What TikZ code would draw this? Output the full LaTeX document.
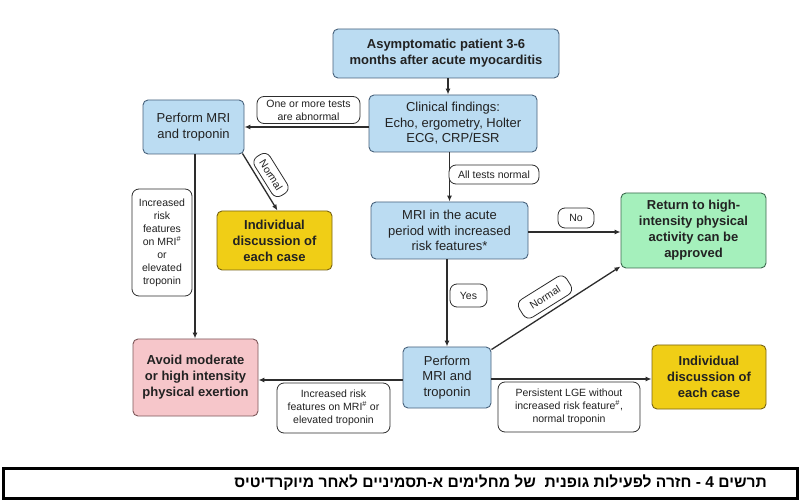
\documentclass[tikz,border=0pt]{standalone}
\usepackage{fontspec}
\setmainfont{Liberation Sans}
\newfontfamily\hebfont[Script=Hebrew]{Liberation Sans}
\TeXXeTstate=1
\usetikzlibrary{arrows.meta,calc}
\definecolor{bluefill}{RGB}{187,220,242}
\definecolor{blueline}{RGB}{72,98,124}
\definecolor{yellowfill}{RGB}{240,206,22}
\definecolor{yellowline}{RGB}{120,100,20}
\definecolor{greenfill}{RGB}{165,240,188}
\definecolor{greenline}{RGB}{60,105,78}
\definecolor{pinkfill}{RGB}{246,198,202}
\definecolor{pinkline}{RGB}{125,88,90}
\definecolor{txt}{RGB}{34,34,34}
\definecolor{conn}{RGB}{45,45,45}
\tikzset{
  box/.style={draw=blueline, line width=0.9pt, rounded corners=5pt, align=center, inner sep=0pt, text=txt, font=\fontsize{13}{15.5}\selectfont},
  bluebox/.style={box, fill=bluefill},
  yellowbox/.style={box, fill=yellowfill, draw=yellowline, font=\fontsize{13}{16}\selectfont\bfseries},
  greenbox/.style={box, fill=greenfill, draw=greenline, font=\fontsize{13}{16}\selectfont\bfseries},
  pinkbox/.style={box, fill=pinkfill, draw=pinkline, font=\fontsize{13}{16}\selectfont\bfseries},
  lab/.style={draw=conn, line width=0.8pt, fill=white, rounded corners=7pt, align=center, inner sep=0pt, text=txt, font=\fontsize{10.5}{13}\selectfont},
  arr/.style={draw=conn, line width=1.3pt, -{Latex[length=6pt,width=5pt]}},
}
\begin{document}
\begin{tikzpicture}[x=1pt,y=-1pt]
\useasboundingbox[fill=white] (0,0) rectangle (800,502);

% main boxes
\node[bluebox, minimum width=226pt, minimum height=49pt, font=\fontsize{13}{16}\selectfont\bfseries] (top) at (446,53.5) {Asymptomatic patient 3-6\\months after acute myocarditis};
\node[bluebox, minimum width=168pt, minimum height=57pt] (clin) at (453,123.5) {Clinical findings:\\Echo, ergometry, Holter\\ECG, CRP/ESR};
\node[bluebox, minimum width=101pt, minimum height=54pt] (mri1) at (193.5,127) {Perform MRI\\and troponin};
\node[yellowbox, minimum width=115pt, minimum height=59pt] (ind1) at (274.5,240.5) {Individual\\discussion of\\each case};
\node[bluebox, minimum width=157pt, minimum height=57pt] (acute) at (449.5,230.5) {MRI in the acute\\period with increased\\risk features*};
\node[greenbox, minimum width=145pt, minimum height=75pt] (ret) at (693.5,230.5) {Return to high-\\intensity physical\\activity can be\\approved};
\node[pinkbox, minimum width=125pt, minimum height=77pt] (avoid) at (195.5,377.5) {Avoid moderate\\or high intensity\\physical exertion};
\node[bluebox, minimum width=88pt, minimum height=61pt] (mri2) at (447,377.5) {Perform\\MRI and\\troponin};
\node[yellowbox, minimum width=114pt, minimum height=64pt] (ind2) at (709,377) {Individual\\discussion of\\each case};

% connectors
\draw[arr] ([xshift=2pt]top.south) -- ([xshift=2pt]top.south |- clin.north);
\draw[arr] (clin.west |- mri1.east) -- (mri1.east);
\draw[arr] (clin.south -| acute.north) -- (acute.north);
\draw[arr] ([yshift=-1.5pt]acute.east) -- ([yshift=-1.5pt]acute.east -| ret.west);
\draw[arr] (acute.south -| mri2.north) -- (mri2.north);
\draw[arr] ([yshift=-3pt]mri2.north east) -- ([yshift=2pt]ret.south west);
\draw[arr] ([yshift=-2.5pt]mri2.west) -- ([yshift=-2.5pt]mri2.west -| avoid.east);
\draw[arr] ([yshift=-1.5pt]mri2.east) -- ([yshift=-1.5pt]mri2.east -| ind2.west);
\draw[arr] ([xshift=1.5pt]mri1.south) -- ([xshift=1.5pt]mri1.south |- avoid.north);
\draw[arr] ([xshift=-2pt,yshift=1pt]mri1.south east) -- ([xshift=3pt]ind1.north);

% labels
\node[lab, minimum width=103pt, minimum height=27pt] (l1) at (308.5,110) {One or more tests\\are abnormal};
\node[lab, minimum width=90pt, minimum height=19pt] (l2) at (494,174.5) {All tests normal};
\node[lab, minimum width=46pt, minimum height=18pt, rotate=-58] (l3) at (271,175) {Normal};
\node[lab, minimum width=60pt, minimum height=107pt] (l4) at (162,242.5) {Increased\\risk\\features\\on MRI\textsuperscript{\#}\\or\\elevated\\troponin};
\node[lab, minimum width=36pt, minimum height=20pt] (l5) at (576,218) {No};
\node[lab, minimum width=37pt, minimum height=23pt] (l6) at (468.5,295.5) {Yes};
\node[lab, minimum width=56pt, minimum height=21pt, rotate=32] (l7) at (545,297) {Normal};
\node[lab, minimum width=113pt, minimum height=50pt] (l8) at (333.5,408) {Increased risk\\features on MRI\textsuperscript{\#} or\\elevated troponin};
\node[lab, minimum width=142pt, minimum height=50pt] (l9) at (569,407) {Persistent LGE without\\increased risk feature\textsuperscript{\#},\\normal troponin};

% caption
\node[draw=black, line width=3pt, minimum width=794pt, minimum height=30pt, inner sep=0pt] (capbox) at (400.5,483) {};
\node[anchor=east, inner sep=0pt, font=\hebfont\bfseries\fontsize{15.6}{18}\selectfont] (cap) at (767,483) {\beginR תרשים 4 - חזרה לפעילות גופנית\ \ של מחלימים א-תסמיניים לאחר מיוקרדיטיס\endR};
\end{tikzpicture}
\end{document}
